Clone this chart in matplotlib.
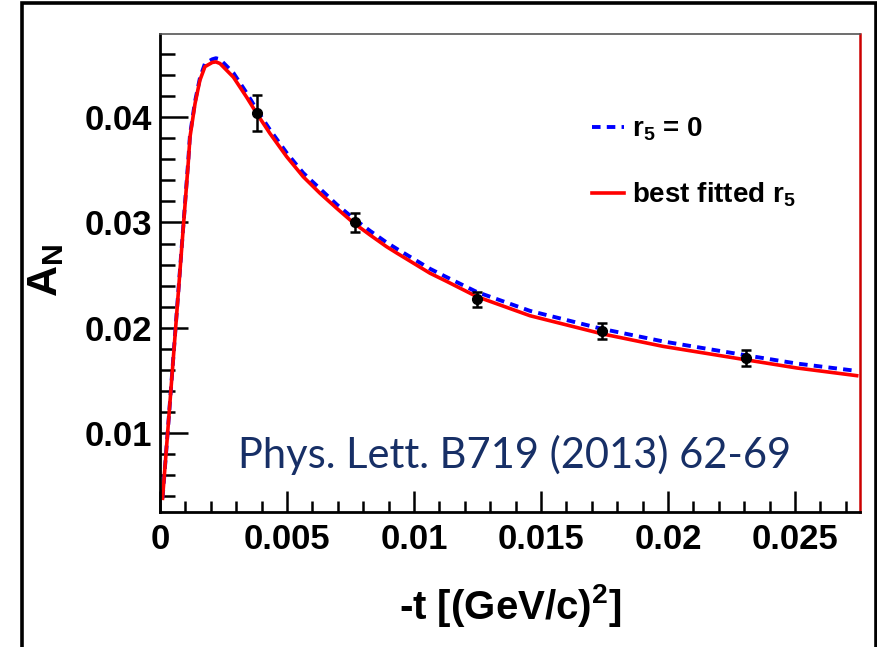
import matplotlib
matplotlib.use('Agg')
import matplotlib.pyplot as plt
from matplotlib.patches import Rectangle
from matplotlib.ticker import MultipleLocator

plt.rcParams['font.family'] = ['Liberation Sans', 'DejaVu Sans']
plt.rcParams['font.weight'] = 'bold'
plt.rcParams['mathtext.fontset'] = 'custom'
plt.rcParams['mathtext.rm'] = 'Liberation Sans:bold'
plt.rcParams['mathtext.it'] = 'Liberation Sans:bold'
plt.rcParams['mathtext.bf'] = 'Liberation Sans:bold'
plt.rcParams['mathtext.default'] = 'rm'

# measured points
t_data = [0.00382, 0.00768, 0.01249, 0.01739, 0.02307]
an_data = [0.0404, 0.0300, 0.0227, 0.01965, 0.01712]
an_err = [0.0017, 0.00087, 0.0007, 0.00076, 0.00076]

# curves
t_fit = [0.0001, 0.0003, 0.0006, 0.0009, 0.00111, 0.00118, 0.00138, 0.00157,
         0.00177, 0.00206, 0.0022, 0.00236, 0.00289, 0.00341, 0.00381, 0.00433,
         0.00499, 0.00564, 0.0063, 0.00696, 0.00761, 0.00827, 0.00892, 0.00932,
         0.01063, 0.01129, 0.01247, 0.01457, 0.01739, 0.01981, 0.02303, 0.02507, 0.02743]
an_best = [0.0038, 0.0100, 0.0195, 0.0290, 0.0356, 0.0381, 0.0413, 0.0435,
           0.0448, 0.0452, 0.04525, 0.0451, 0.0438, 0.0419, 0.04035, 0.03845,
           0.03624, 0.03434, 0.03277, 0.03134, 0.02998, 0.02881, 0.0277, 0.0271,
           0.02518, 0.0244, 0.02296, 0.02114, 0.01943, 0.01823, 0.01697, 0.01618, 0.01545]
an_r5zero = [0.0038, 0.0100, 0.0196, 0.0291, 0.0358, 0.0383, 0.0415, 0.0437,
             0.0451, 0.0455, 0.0456, 0.0455, 0.0442, 0.0423, 0.0407, 0.0388,
             0.0366, 0.0347, 0.0332, 0.0317, 0.0304, 0.0292, 0.0281, 0.0275,
             0.0256, 0.0248, 0.0234, 0.0216, 0.0199, 0.0187, 0.0174, 0.0166, 0.0159]

x_ticks = [0, 0.005, 0.01, 0.015, 0.02, 0.025]
x_labels = ['0', '0.005', '0.01', '0.015', '0.02', '0.025']
y_ticks = [0.01, 0.02, 0.03, 0.04]
y_labels = ['0.01', '0.02', '0.03', '0.04']

fig = plt.figure(figsize=(8.78, 6.47), dpi=100)
ax = fig.add_axes([160 / 878, 1 - 512 / 647, 700 / 878, 478 / 647])

ax.plot(t_fit, an_r5zero, color='#0000ff', lw=2.8, ls=(0, (2.2, 1.6)), label='r$_5$ = 0')
ax.plot(t_fit, an_best, color='#ff0000', lw=2.6, label='best fitted r$_5$')
ax.errorbar(t_data, an_data, yerr=an_err, fmt='o', color='black', ms=7,
            elinewidth=1.8, capsize=3.5, capthick=1.8, zorder=5)

ax.set_xlim(0, 0.02756)
ax.set_ylim(0.0025, 0.0479)
ax.set_xticks(x_ticks, x_labels)
ax.set_yticks(y_ticks, y_labels)
ax.xaxis.set_minor_locator(MultipleLocator(0.001))
ax.yaxis.set_minor_locator(MultipleLocator(0.002))
ax.tick_params(axis='both', which='both', direction='in', width=1.8, colors='black',
               labelsize=25, top=False, right=False)
ax.tick_params(axis='x', which='major', length=15, pad=8)
ax.tick_params(axis='x', which='minor', length=8)
ax.tick_params(axis='y', which='major', length=20, pad=6)
ax.tick_params(axis='y', which='minor', length=11)
for lab in ax.get_xticklabels() + ax.get_yticklabels():
    lab.set_fontweight('bold')

ax.spines['left'].set_linewidth(2)
ax.spines['bottom'].set_linewidth(2)
ax.spines['top'].set_linewidth(1.2)
ax.spines['top'].set_color('#555555')
ax.spines['right'].set_linewidth(1.8)
ax.spines['right'].set_color('#cc0000')

ax.set_xlabel('-t [(GeV/c)$^2$]', fontsize=29, fontweight='bold')
ax.xaxis.set_label_coords(350 / 700, -70 / 478)
ax.set_ylabel('A$_N$', fontsize=31, fontweight='bold')
ax.yaxis.set_label_coords(-94 / 700, 242 / 478)

ax.legend(loc='upper left', bbox_to_anchor=(0.617, 0.83), frameon=False,
          fontsize=20, handlelength=1.15, handletextpad=0.3, labelspacing=1.35,
          borderpad=0, borderaxespad=0)

ax.text(0.111, 0.092, 'Phys. Lett. B719 (2013) 62-69', transform=ax.transAxes,
        fontsize=30, fontweight='normal', family=['Lato', 'DejaVu Sans'],
        color='#172f66', ha='left', va='baseline')

fig.add_artist(Rectangle((22 / 878, -0.1), 854 / 878, 1.1 - 3 / 647,
                         transform=fig.transFigure, fill=False, lw=2.6,
                         edgecolor='black'))

fig.savefig('out.png', dpi=100)
